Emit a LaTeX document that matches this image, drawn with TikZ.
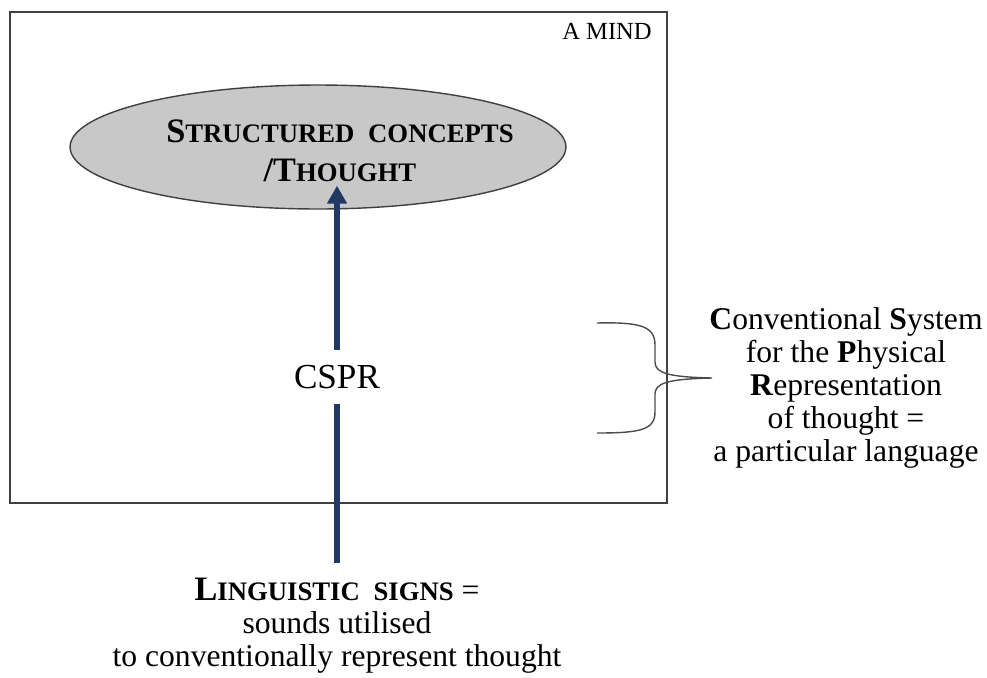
\documentclass[tikz,border=0pt]{standalone}
\usepackage{fontspec}
\setmainfont{Liberation Serif}
\usetikzlibrary{arrows.meta,shapes.geometric}

\definecolor{SignBlue}{RGB}{31,56,100}
\definecolor{ConceptGray}{RGB}{200,200,200}
\newcommand{\FakeSC}[1]{{\fontsize{15.2}{22}\selectfont #1}}

\begin{document}
\begin{tikzpicture}[
        %Environment config
        x=0.02cm, y=-0.02cm,
        font=\fontsize{18}{18.7}\selectfont,
        %Environment styles
        MindBox/.style={draw=black!75, line width=0.8pt},
        ConceptCfg/.style={
            ellipse,
            draw=black!75,
            line width=0.8pt,
            fill=ConceptGray,
            minimum width=9.92cm,
            minimum height=2.48cm,
            inner sep=0pt
        },
        SignArrow/.style={draw=SignBlue, line width=3.4pt},
        BraceCfg/.style={draw=black!70, line width=0.8pt}
    ]
    \useasboundingbox (0,0) rectangle (987,677);
    \draw[MindBox] (10,12) rectangle (667,503);
    \path
        (318,147) node[ConceptCfg](CONC){}
        (340,151) node[align=center, inner sep=2pt,
            font=\fontsize{19.5}{22}\selectfont\bfseries](THT)
            {S\FakeSC{TRUCTURED}\hspace{0.4em}\FakeSC{CONCEPTS}\\/T\FakeSC{HOUGHT}}
        (607,31) node[font=\fontsize{14}{16}\selectfont](MIND){A MIND}
        (337,377) node[minimum height=1.08cm,
            font=\fontsize{20}{22}\selectfont](CSPR){CSPR}
        (337,626) node[align=center](SIGNS)
            {\textbf{\fontsize{19.5}{18.7}\selectfont L\FakeSC{INGUISTIC}\hspace{0.4em}\FakeSC{SIGNS}} =\\
             sounds utilised\\to conventionally represent thought}
        (846,388) node[align=center](LANG)
            {\textbf{C}onventional \textbf{S}ystem\\for the \textbf{P}hysical\\
             \textbf{R}epresentation\\of thought =\\a particular language};
    \coordinate (SIGNTOP) at (337,563);

    \draw[SignArrow] (SIGNTOP) -- (CSPR.south);
    \draw[SignArrow, -{Triangle[width=10.8pt, length=10.2pt]}]
        (CSPR.north) -- (CSPR.north |- THT.south);
    % brace towards the language text
    \draw[BraceCfg] (597,323) .. controls (640,322) and (655,326) .. (655,345)
        -- (655,362) .. controls (655,373) and (668,377) .. (712,378)
        .. controls (668,379) and (655,383) .. (655,394)
        -- (655,412) .. controls (655,430) and (640,433) .. (597,433);
\end{tikzpicture}
\end{document}
